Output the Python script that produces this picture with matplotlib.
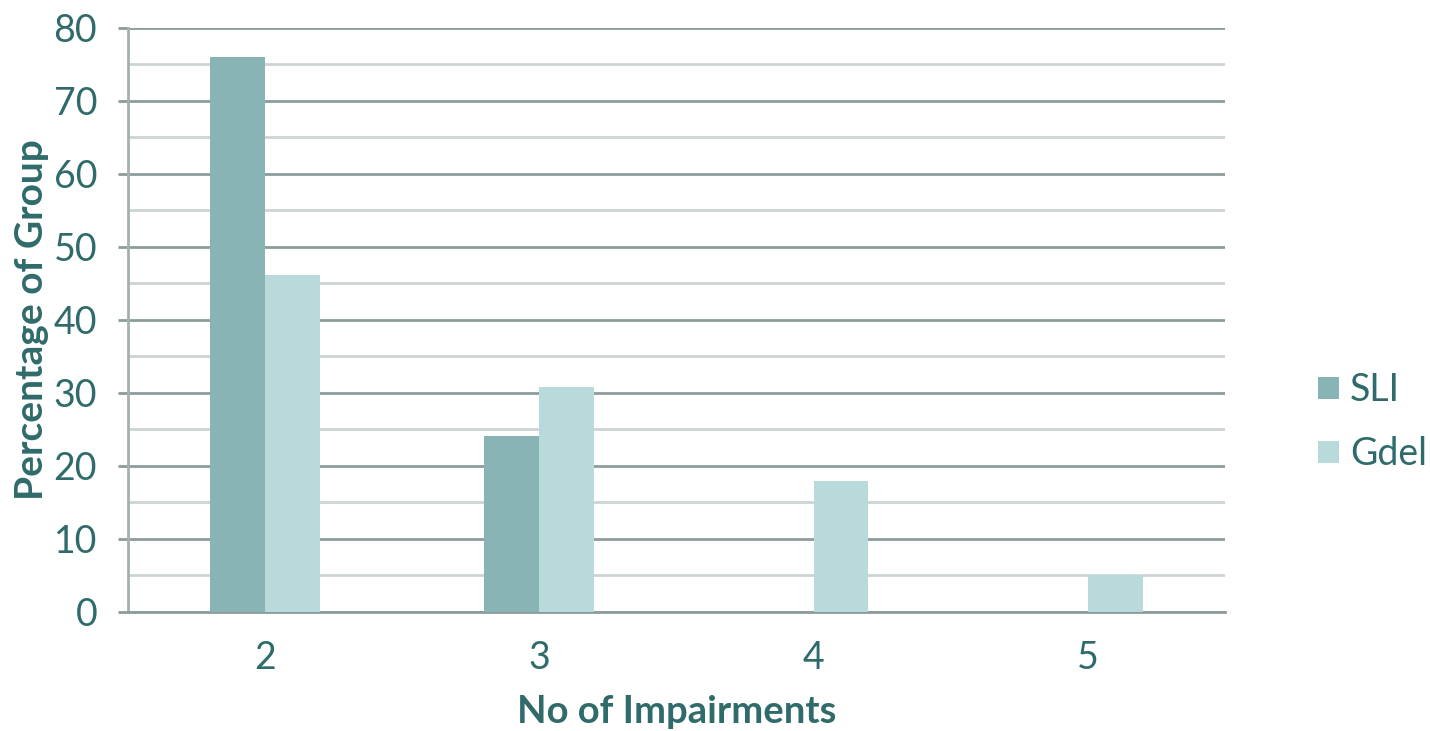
import matplotlib
matplotlib.use("Agg")
import matplotlib.pyplot as plt
import numpy as np

categories = ["2", "3", "4", "5"]
sli = [76.0, 24.1, 0, 0]
gdel = [46.2, 30.8, 17.9, 5.1]
series_names = ["SLI", "Gdel"]

text_color = "#2f6b6a"
sli_color = "#89b4b5"
gdel_color = "#b8dadb"
major_grid = "#8c9c9b"
minor_grid = "#cdd3d3"

plt.rcParams["font.family"] = ["Lato", "DejaVu Sans"]

fig = plt.figure(figsize=(14.30, 7.31), dpi=100)
ax = fig.add_axes([0.0895, 0.1628, 0.7671, 0.7989])

x = np.arange(len(categories))
w = 0.2
ax.bar(x - w / 2, sli, w, color=sli_color, label=series_names[0], zorder=3)
ax.bar(x + w / 2, gdel, w, color=gdel_color, label=series_names[1], zorder=3)

ax.set_xlim(-0.5, len(categories) - 0.5)
ax.set_ylim(0, 80)
ax.set_yticks(np.arange(0, 81, 10))
ax.set_yticks(np.arange(5, 80, 10), minor=True)
ax.set_xticks(x)
ax.set_xticklabels(categories)

ax.grid(axis="y", which="major", color=major_grid, linewidth=2, zorder=0)
ax.grid(axis="y", which="minor", color=minor_grid, linewidth=2, zorder=0)
ax.grid(axis="x", visible=False)

for s in ["top", "right"]:
    ax.spines[s].set_visible(False)
ax.spines["left"].set_color("#a3b0af")
ax.spines["left"].set_linewidth(2)
ax.spines["bottom"].set_color(major_grid)
ax.spines["bottom"].set_linewidth(2)

ax.tick_params(axis="y", which="major", length=7.2, width=2, color=major_grid,
               labelsize=27, labelcolor=text_color, pad=15)
ax.tick_params(axis="y", which="minor", length=0)
ax.tick_params(axis="x", length=0, labelsize=27, labelcolor=text_color, pad=20)

ax.set_xlabel("No of Impairments", fontsize=27.5, fontweight="bold",
              color=text_color, labelpad=14)
ax.set_ylabel("Percentage of Group", fontsize=28, fontweight="bold",
              color=text_color, labelpad=3)

leg = ax.legend(loc="center left", bbox_to_anchor=(1.085, 0.325), frameon=False,
                fontsize=27, handlelength=0.55, handleheight=0.55,
                handletextpad=0.3, labelspacing=0.75,
                borderaxespad=0, borderpad=0)
for t in leg.get_texts():
    t.set_color(text_color)

fig.savefig("out.png", dpi=100)
